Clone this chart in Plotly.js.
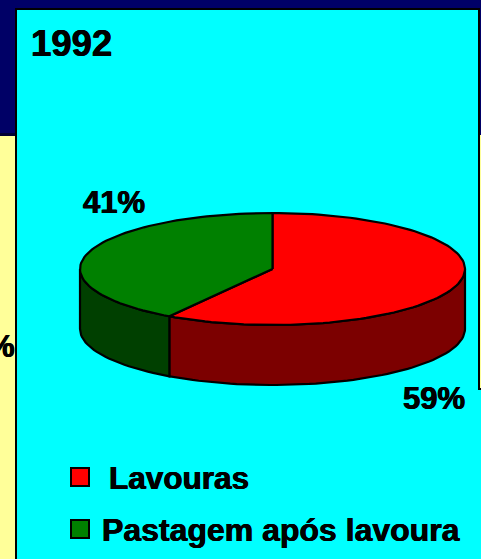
<!DOCTYPE html>
<html>
<head>
<meta charset="utf-8">
<script src="https://cdn.plot.ly/plotly-3.0.1.min.js"></script>
<style>html,body{margin:0;padding:0;background:#00ffff;overflow:hidden}#c{width:481px;height:559px}</style>
</head>
<body>
<div id="c"></div>
<script>
const categories = ["Lavouras", "Pastagem após lavoura"];
const shares = [59, 41];
const topColors = ["#ff0000", "#008000"];
const wallColors = ["#7c0000", "#004000"];
const yearLabel = "1992";

const cx = 272.5, cy = 269, rx = 192.5, ry = 56, depth = 60;
const FONT = "Liberation Sans, Arial, sans-serif";

function pt(deg, dy) {
  const t = deg * Math.PI / 180;
  return [cx + rx * Math.sin(t), cy - ry * Math.cos(t) + (dy || 0)];
}
function arc(a, b, dy) {
  const out = [], n = Math.max(2, Math.ceil(Math.abs(b - a) / 2));
  for (let i = 0; i <= n; i++) out.push(pt(a + (b - a) * i / n, dy));
  return out;
}
function poly(points, fill) {
  return {
    x: points.map(p => p[0]), y: points.map(p => p[1]),
    type: "scatter", mode: "lines", fill: "toself", fillcolor: fill,
    line: {color: "#000", width: 2.2}, hoverinfo: "skip", showlegend: false
  };
}

const total = shares.reduce((a, b) => a + b, 0);
const walls = [], tops = [];
let start = 0;
shares.forEach((v, i) => {
  const end = start + v / total * 360;
  tops.push(poly([[cx, cy]].concat(arc(start, end)).concat([[cx, cy]]), topColors[i]));
  const a = Math.max(start, 90), b = Math.min(end, 270);
  if (b > a) walls.push(poly(arc(a, b).concat(arc(b, a, depth)).concat([pt(a)]), wallColors[i]));
  start = end;
});

const legendMarks = categories.map((c, i) => ({
  x: [80], y: [i === 0 ? 477 : 529], type: "scatter", mode: "markers",
  marker: {symbol: "square", size: 18, color: topColors[i], line: {color: "#000", width: 2}},
  hoverinfo: "skip", showlegend: false
}));

function label(text, x, y, size, anchor) {
  return {text: "<b>" + text + "</b>", x, y, xref: "x", yref: "y", showarrow: false,
    xanchor: anchor || "left", yanchor: "middle",
    font: {family: FONT, size, color: "#000", shadow: "0.4px 0 0 #000, -0.4px 0 0 #000"}};
}
function rect(x0, y0, x1, y1, color) {
  return {type: "rect", layer: "below", xref: "x", yref: "y", x0, y0, x1, y1,
    fillcolor: color, line: {width: 0}};
}

const layout = {
  width: 481, height: 559,
  margin: {l: 0, r: 0, t: 0, b: 0},
  paper_bgcolor: "#00ffff", plot_bgcolor: "#00ffff",
  showlegend: false,
  xaxis: {range: [0, 481], visible: false, fixedrange: true},
  yaxis: {range: [559, 0], visible: false, fixedrange: true},
  shapes: [
    rect(0, 0, 481, 135, "#000066"),
    rect(0, 133, 15, 136, "#000033"),
    rect(0, 136, 15, 559, "#ffff99"),
    rect(15, 8, 478, 559, "#000000"),
    rect(480, 135, 481, 388, "#ffff99"),
    rect(478, 8, 480, 390, "#000000"),
    rect(478, 388, 481, 390, "#000000"),
    rect(17, 10, 478, 559, "#00ffff"),
    rect(478, 390, 481, 559, "#00ffff")
  ],
  annotations: [
    label(yearLabel, 29, 43, 36.5),
    label(shares[1] + "%", 81, 202, 31),
    label(shares[0] + "%", 401, 398, 31),
    label("%", 17, 346, 31, "right"),
    label(categories[0], 107, 478, 31.5),
    label(categories[1], 100, 530, 32)
  ]
};

Plotly.newPlot("c", walls.concat(tops, legendMarks), layout, {displayModeBar: false, staticPlot: true});
</script>
</body>
</html>
